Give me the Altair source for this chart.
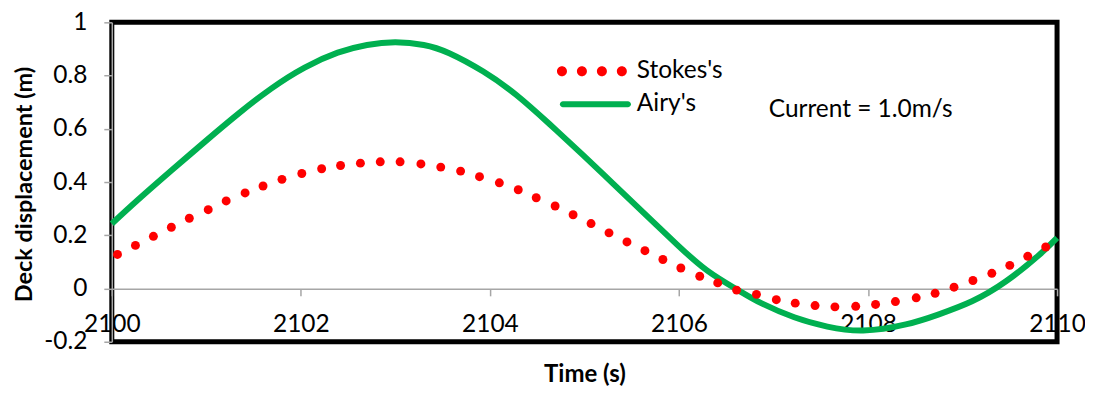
import altair as alt
import pandas as pd

# ---- data ----
stokes_t = [2100.06, 2100.25, 2100.44, 2100.63, 2100.82, 2101.02, 2101.21, 2101.41, 2101.60, 2101.80,
            2102.01, 2102.22, 2102.42, 2102.63, 2102.84, 2103.05, 2103.27, 2103.48, 2103.69, 2103.89,
            2104.10, 2104.30, 2104.49, 2104.69, 2104.88, 2105.07, 2105.26, 2105.45, 2105.64, 2105.83,
            2106.02, 2106.22, 2106.41, 2106.61, 2106.82, 2107.03, 2107.23, 2107.44, 2107.65, 2107.87,
            2108.08, 2108.29, 2108.51, 2108.71, 2108.91, 2109.11, 2109.31, 2109.50, 2109.69, 2109.88]
stokes_v = [0.128, 0.162, 0.196, 0.230, 0.264, 0.296, 0.329, 0.359, 0.385, 0.410,
            0.432, 0.450, 0.462, 0.471, 0.476, 0.476, 0.468, 0.456, 0.441, 0.420,
            0.397, 0.371, 0.341, 0.310, 0.277, 0.244, 0.209, 0.175, 0.142, 0.109,
            0.077, 0.046, 0.021, -0.006, -0.022, -0.042, -0.055, -0.064, -0.069, -0.067,
            -0.060, -0.049, -0.035, -0.018, 0.005, 0.030, 0.057, 0.087, 0.121, 0.156]

airy_t = [2100.0, 2100.28, 2100.63, 2100.98, 2101.34, 2101.69, 2102.04, 2102.39, 2102.70, 2103.0,
          2103.30, 2103.57, 2103.93, 2104.28, 2104.63, 2104.98, 2105.30, 2105.63, 2105.98, 2106.30,
          2106.62, 2106.87, 2107.22, 2107.57, 2107.95, 2108.40, 2108.75, 2109.10, 2109.46, 2109.81,
          2110.0]
airy_v = [0.243, 0.334, 0.443, 0.550, 0.657, 0.752, 0.830, 0.886, 0.915, 0.925,
          0.915, 0.884, 0.815, 0.727, 0.618, 0.503, 0.395, 0.283, 0.165, 0.067,
          -0.005, -0.055, -0.108, -0.143, -0.158, -0.135, -0.097, -0.048, 0.027, 0.126,
          0.190]

series_names = ["Stokes's", "Airy's"]
series_colors = ["#FF0000", "#00B050"]
x_ticks = [2100, 2102, 2104, 2106, 2108, 2110]
y_ticks = [-0.2, 0, 0.2, 0.4, 0.6, 0.8, 1]
note_text = ["Current = 1.0m/s"]
note_t = [2106.95]
note_v = [0.67]

FONT = "Lato"
FS = 24.5

stokes_df = pd.DataFrame({"t": stokes_t, "v": stokes_v, "series": series_names[0]})
airy_df = pd.DataFrame({"t": airy_t, "v": airy_v, "series": series_names[1]})
all_df = pd.concat([stokes_df, airy_df], ignore_index=True)
note_df = pd.DataFrame({"t": note_t, "v": note_v, "label": note_text})

xs = alt.Scale(domain=[2100, 2110], nice=False, zero=False)
ys = alt.Scale(domain=[-0.2, 1], nice=False, zero=False)

x_axis = alt.Axis(values=x_ticks, format="d", grid=False, offset=-53,
                  domainColor="#A6A6A6", domainWidth=1.5, tickColor="#A6A6A6", tickWidth=1.5,
                  tickSize=7, labelPadding=29, labelBaseline="middle",
                  labelFont=FONT, labelFontSize=FS, labelColor="black",
                  title="Time (s)", titleFont=FONT, titleFontSize=24, titleFontWeight="bold",
                  titleColor="black", titleBaseline="alphabetic", titleY=93, labelFlush=False)
y_axis = alt.Axis(values=y_ticks, grid=False, labelExpr="toString(datum.value)",
                  domainColor="#A6A6A6", domainWidth=1.5, tickColor="#A6A6A6", tickWidth=1.5,
                  tickSize=8, labelPadding=17,
                  labelFont=FONT, labelFontSize=FS, labelColor="black",
                  title="Deck displacement (m)", titleFont=FONT, titleFontSize=23.5,
                  titleFontWeight="bold", titleColor="black", titleBaseline="alphabetic",
                  titleX=-80, titleY=162, titleAngle=270, labelFlush=False)

airy_line = alt.Chart(airy_df).mark_line(color=series_colors[1], strokeWidth=6,
                                          interpolate="natural").encode(
    x=alt.X("t:Q", scale=xs, axis=x_axis),
    y=alt.Y("v:Q", scale=ys, axis=y_axis),
)

stokes_dots = alt.Chart(stokes_df).mark_circle(color=series_colors[0], size=80, opacity=1).encode(
    x=alt.X("t:Q", scale=xs),
    y=alt.Y("v:Q", scale=ys),
)

# custom legend symbols (unit coords, scaled by sqrt(size)/2)
r = 0.143
dots_path = " ".join(
    f"M {c - r:.3f},0 A {r},{r} 0 1,0 {c + r:.3f},0 A {r},{r} 0 1,0 {c - r:.3f},0 Z"
    for c in [-0.857, -0.286, 0.286, 0.857]
)
h = 0.086
line_path = (f"M -0.83,{-h} L 1.03,{-h} A {h},{h} 0 0,1 1.03,{h} "
             f"L -0.83,{h} A {h},{h} 0 0,1 -0.83,{-h} Z")

legend_layer = alt.Chart(all_df).transform_filter("false").mark_point(
    filled=True, size=4900, opacity=1).encode(
    x=alt.X("t:Q", scale=xs),
    y=alt.Y("v:Q", scale=ys),
    color=alt.Color("series:N", scale=alt.Scale(domain=series_names, range=series_colors),
                    legend=alt.Legend(title=None, orient="none", legendX=446, legendY=37,
                                      padding=0, clipHeight=24, rowPadding=8,
                                      labelFont=FONT, labelFontSize=FS, labelColor="black",
                                      labelOffset=10, symbolSize=4900, symbolOpacity=1,
                                      symbolStrokeWidth=0)),
    shape=alt.Shape("series:N", scale=alt.Scale(domain=series_names,
                                                range=[dots_path, line_path])),
)

note = alt.Chart(note_df).mark_text(align="left", baseline="middle", font=FONT,
                                    fontSize=FS, color="black").encode(
    x=alt.X("t:Q", scale=xs),
    y=alt.Y("v:Q", scale=ys),
    text="label:N",
)

chart = alt.layer(airy_line, stokes_dots, legend_layer, note).properties(
    width=947, height=320,
    autosize=alt.AutoSizeParams(type="none"),
    padding={"left": 104, "top": 14, "right": 28, "bottom": 44},
    background="white",
).configure_view(stroke="black", strokeWidth=5)

chart.save("out.html", embed_options={"renderer": "svg", "actions": False})
